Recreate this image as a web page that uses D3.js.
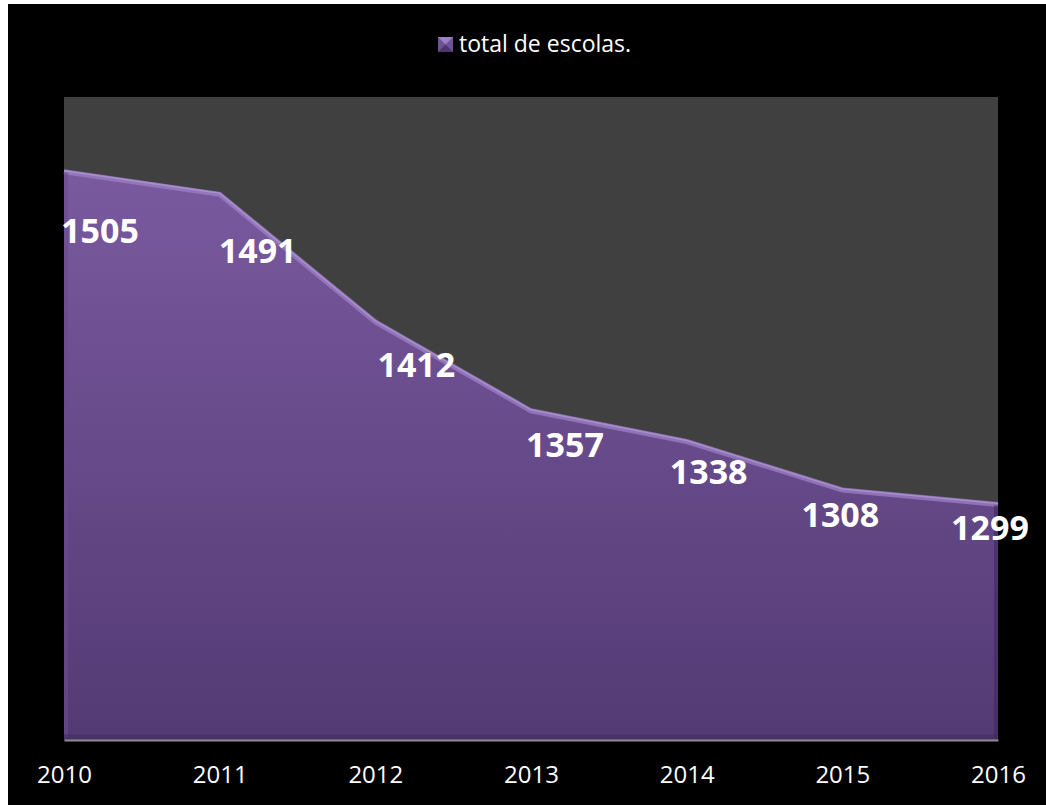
<!DOCTYPE html>
<html><head><meta charset="utf-8">
<script src="https://cdn.jsdelivr.net/npm/d3@7/dist/d3.min.js"></script>
<style>
html,body{margin:0;padding:0;background:#fff;}
svg{display:block;}
</style></head>
<body>
<svg id="chart" width="1046" height="805"></svg>
<script>
const years = ["2010","2011","2012","2013","2014","2015","2016"];
const totalEscolas = [1505,1491,1412,1357,1338,1308,1299];
const seriesName = "total de escolas.";

const W = 1046, H = 805;
const svg = d3.select("#chart");
const frame = {x:8, y:4};
const plot = {left:64, right:998, top:97, bottom:740};

svg.append("rect").attr("x",frame.x).attr("y",frame.y)
  .attr("width",W-frame.x).attr("height",H-frame.y).attr("fill","#000");

svg.append("rect").attr("x",plot.left).attr("y",plot.top)
  .attr("width",plot.right-plot.left).attr("height",plot.bottom-plot.top)
  .attr("fill","#404040");

const x = d3.scalePoint().domain(years).range([plot.left, plot.right]).padding(0);
const y = d3.scaleLinear().domain([1152, 1550]).range([plot.bottom, plot.top]);

const defs = svg.append("defs");
const grad = defs.append("linearGradient").attr("id","fillG")
  .attr("x1",0).attr("y1",0).attr("x2",0).attr("y2",1);
grad.append("stop").attr("offset","0%").attr("stop-color","#7a5a9f");
grad.append("stop").attr("offset","100%").attr("stop-color","#533a74");

const data = years.map((yr,i)=>({yr, v: totalEscolas[i]}));

const area = d3.area().x(d=>x(d.yr)).y0(plot.bottom).y1(d=>y(d.v));
const line = d3.line().x(d=>x(d.yr)).y(d=>y(d.v));

svg.append("path").datum(data).attr("d",area).attr("fill","url(#fillG)");

// bevel edges
svg.append("path").datum(data).attr("d",line)
  .attr("fill","none").attr("stroke","#9c7fc6").attr("stroke-width",5)
  .attr("transform","translate(0,2)").attr("opacity",0.75);
svg.append("path").datum(data).attr("d",line)
  .attr("fill","none").attr("stroke","#b29ad6").attr("stroke-width",1.5)
  .attr("transform","translate(0,1)").attr("opacity",0.7);
// left / right / bottom darker edges
svg.append("line").attr("x1",plot.left+2).attr("x2",plot.left+2)
  .attr("y1",y(totalEscolas[0])+3).attr("y2",plot.bottom-2)
  .attr("stroke","#6a4c8e").attr("stroke-width",4).attr("opacity",0.6);
svg.append("line").attr("x1",plot.right-2).attr("x2",plot.right-2)
  .attr("y1",y(totalEscolas[totalEscolas.length-1])+3).attr("y2",plot.bottom-2)
  .attr("stroke","#3f2a5c").attr("stroke-width",4).attr("opacity",0.6);
svg.append("line").attr("x1",plot.left).attr("x2",plot.right)
  .attr("y1",plot.bottom-3).attr("y2",plot.bottom-3)
  .attr("stroke","#3f2a5c").attr("stroke-width",5).attr("opacity",0.5);

// x axis
const xAxis = d3.axisBottom(x).tickSize(0).tickPadding(0);
const gx = svg.append("g").attr("transform",`translate(0,${plot.bottom})`).call(xAxis);
gx.select(".domain").attr("stroke","#8c8c8c").attr("stroke-width",2);
gx.selectAll("text").attr("fill","#fff").attr("font-family","'Open Sans', sans-serif")
  .attr("font-size",24).attr("dy",null).attr("y",43);

// data labels
const nudge = [36, 38, 41, 34, 22, -2, -8];
svg.append("g").selectAll("text").data(data).join("text")
  .attr("x",(d,i)=>x(d.yr)+nudge[i])
  .attr("y",d=>{const py=y(d.v); return py + 0.108*(plot.bottom-py) + 12;})
  .attr("text-anchor","middle")
  .attr("fill","#fff").attr("font-family","'Open Sans', sans-serif")
  .attr("font-weight","bold").attr("font-size",34)
  .text(d=>d.v);

// legend
const lg = svg.append("g");
const sq = lg.append("g").attr("transform","translate(438,37)");
sq.append("rect").attr("width",15).attr("height",15).attr("fill","#6f5196");
sq.append("path").attr("d","M0,0 L15,0 L7.5,7.5 Z").attr("fill","#9b80c2");
sq.append("path").attr("d","M0,15 L15,15 L7.5,7.5 Z").attr("fill","#4d3670");
lg.append("text").attr("x",459).attr("y",52)
  .attr("fill","#fff").attr("font-family","'Open Sans', sans-serif")
  .attr("font-size",23).text(seriesName);
</script>
</body></html>
